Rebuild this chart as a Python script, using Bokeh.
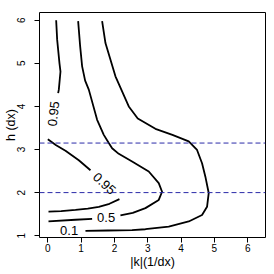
from bokeh.plotting import figure
from bokeh.models import Range1d, FixedTicker, Span
from bokeh.core.properties import value
from bokeh.embed import file_html
from bokeh.resources import INLINE

# ---- data ----
x_ticks = [0, 1, 2, 3, 4, 5, 6]
y_ticks = [1, 2, 3, 4, 5, 6]
h_marks = [3.15, 2.0]

# contour level 0.95 (three visible pieces)
c95a_k = [0.25, 0.28, 0.35, 0.38, 0.33, 0.31]
c95a_h = [6.0, 5.55, 5.0, 4.81, 4.39, 4.31]
c95b_k = [0.0, 0.25, 0.53, 0.93, 1.28]
c95b_h = [3.24, 3.1, 2.97, 2.75, 2.52]
c95c_k = [2.15, 1.85, 1.53, 1.2, 0.83, 0.4, 0.02]
c95c_h = [1.85, 1.74, 1.67, 1.63, 1.6, 1.57, 1.56]

# contour level 0.5
c50a_k = [0.91, 0.97, 1.03, 1.12, 1.23, 1.48, 1.68, 1.83, 1.93, 2.13, 2.53, 3.03, 3.33, 3.43, 3.33, 2.93, 2.55, 2.18]
c50a_h = [5.98, 5.4, 4.93, 4.6, 4.39, 3.69, 3.34, 3.15, 3.03, 2.9, 2.72, 2.49, 2.22, 2.02, 1.83, 1.64, 1.53, 1.47]
c50b_k = [0.02, 0.83, 1.33]
c50b_h = [1.33, 1.37, 1.39]

# contour level 0.1
c10_k = [1.63, 1.73, 2.03, 2.43, 2.7, 3.23, 3.74, 4.23, 4.48, 4.63, 4.73, 4.83, 4.78, 4.63, 4.23, 3.63, 2.93, 2.53, 1.8, 1.13]
c10_h = [5.98, 5.47, 4.7, 4.0, 3.72, 3.48, 3.34, 3.19, 2.99, 2.68, 2.37, 1.99, 1.67, 1.48, 1.33, 1.21, 1.15, 1.13, 1.12, 1.11]

lab_text = ["0.95", "0.95", "0.5", "0.1"]
lab_k = [0.17, 1.70, 1.75, 0.64]
lab_h = [3.83, 2.21, 1.42, 1.11]
lab_angle = [1.45, -0.74, 0.0, 0.0]

FONT = "Liberation Sans"

p = figure(frame_width=226, frame_height=225,
           x_range=Range1d(-0.25, 6.535), y_range=Range1d(0.958, 6.18),
           output_backend="svg", toolbar_location=None,
           background_fill_color="white", border_fill_color="white")
p.min_border_left = 35
p.min_border_right = 4
p.min_border_top = 12
p.min_border_bottom = 28
p.outline_line_color = "black"
p.outline_line_width = 1
p.grid.visible = False

p.xaxis.ticker = FixedTicker(ticks=x_ticks)
p.yaxis.ticker = FixedTicker(ticks=y_ticks)
p.xaxis.axis_label = "|k|(1/dx)"
p.yaxis.axis_label = "h (dx)"
for ax in (p.xaxis[0], p.yaxis[0]):
    ax.axis_line_color = None
    ax.major_tick_out = 5
    ax.major_tick_in = 0
    ax.minor_tick_line_color = None
    ax.major_tick_line_color = "black"
    ax.major_label_text_font = FONT
    ax.major_label_text_font_size = "10px"
    ax.major_label_text_color = "black"
    ax.axis_label_text_font = FONT
    ax.axis_label_text_font_size = "12.5px"
    ax.axis_label_text_font_style = "normal"
    ax.axis_label_text_color = "black"
p.xaxis.major_label_standoff = 1
p.xaxis.axis_label_standoff = 0
p.yaxis.major_label_standoff = 9
p.yaxis.axis_label_standoff = -3
p.yaxis.major_label_orientation = "vertical"

for y in h_marks:
    p.add_layout(Span(location=y, dimension="width", line_color="#2a2aa8",
                      line_width=1, line_dash="5 3"))

for xs, ys in [(c95a_k, c95a_h), (c95b_k, c95b_h), (c95c_k, c95c_h),
               (c50a_k, c50a_h), (c50b_k, c50b_h), (c10_k, c10_h)]:
    p.line(xs, ys, line_color="black", line_width=1.8)

p.text(x=lab_k, y=lab_h, text=lab_text, angle=lab_angle,
       text_font=value(FONT), text_font_size="13px", text_color="black",
       text_align="center", text_baseline="middle")

open("out.html", "w").write(file_html(p, INLINE))
